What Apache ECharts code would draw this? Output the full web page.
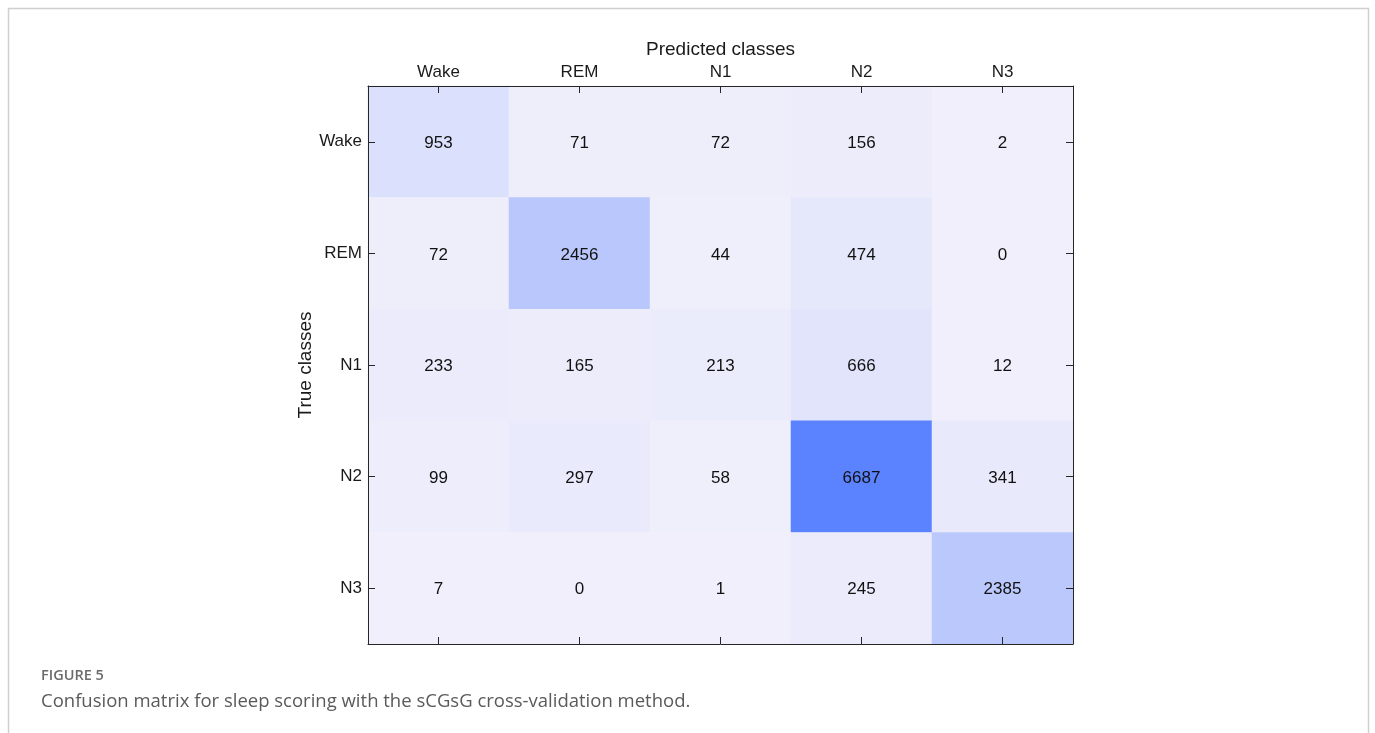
<!DOCTYPE html>
<html>
<head>
<meta charset="utf-8">
<style>
  html, body { margin: 0; padding: 0; background: #fff; }
  #chart { width: 1375px; height: 733px; }
</style>
<script src="https://cdn.jsdelivr.net/npm/echarts@6/dist/echarts.min.js"></script>
</head>
<body>
<div id="chart"></div>
<script>
// Sleep stage classes (predicted along columns, true along rows)
const predictedClasses = ['Wake', 'REM', 'N1', 'N2', 'N3'];
const trueClasses = ['Wake', 'REM', 'N1', 'N2', 'N3'];

// Counts per true class (one row each), columns follow predictedClasses
const rowWake = [953, 71, 72, 156, 2];
const rowREM  = [72, 2456, 44, 474, 0];
const rowN1   = [233, 165, 213, 666, 12];
const rowN2   = [99, 297, 58, 6687, 341];
const rowN3   = [7, 0, 1, 245, 2385];

const matrix = [rowWake, rowREM, rowN1, rowN2, rowN3];

const cells = [];
matrix.forEach((row, yi) => {
  row.forEach((v, xi) => cells.push([xi, yi, v]));
});
const maxCount = Math.max(...cells.map(c => c[2]));

const axisColor = '#262626';
const font = '"Liberation Sans", Arial, sans-serif';

// Box axes drawn above the cells, ticks pointing inward
function boxAxis(extra) {
  return Object.assign({
    type: 'category', z: 10,
    axisLine: { show: true, lineStyle: { color: axisColor, width: 1 } },
    axisTick: { show: true, inside: true, length: 7, alignWithLabel: true, lineStyle: { color: axisColor } },
    axisLabel: { show: false },
    splitLine: { show: false }, splitArea: { show: false }
  }, extra);
}

const chart = echarts.init(document.getElementById('chart'));
chart.setOption({
  animation: false,
  backgroundColor: '#fff',
  grid: { left: 368, top: 86, width: 705, height: 558 },
  xAxis: [
    boxAxis({
      data: predictedClasses, position: 'top',
      name: 'Predicted classes', nameLocation: 'middle', nameGap: 27,
      nameMoveOverlap: false,
      nameTextStyle: { fontFamily: font, fontSize: 19, color: '#1a1a1a' },
      axisLabel: { show: true, fontFamily: font, fontSize: 17, color: '#1a1a1a', margin: 5 }
    }),
    boxAxis({ data: predictedClasses, position: 'bottom' })
  ],
  yAxis: [
    boxAxis({
      data: trueClasses, inverse: true, position: 'left',
      name: 'True classes', nameLocation: 'middle', nameGap: 53, nameRotate: 90,
      nameMoveOverlap: false,
      nameTextStyle: { fontFamily: font, fontSize: 19, color: '#1a1a1a' },
      axisLabel: { show: true, fontFamily: font, fontSize: 17, color: '#1a1a1a', margin: 6, padding: [4, 0, 0, 0] }
    }),
    boxAxis({ data: trueClasses, inverse: true, position: 'right' })
  ],
  visualMap: {
    show: false, min: 0, max: maxCount, dimension: 2,
    inRange: { color: ['#f0effb', '#5b83ff'] }
  },
  series: [{
    type: 'heatmap',
    xAxisIndex: 0, yAxisIndex: 0,
    data: cells,
    label: {
      show: true, fontFamily: font, fontSize: 17, color: '#111', offset: [0, 1.5],
      formatter: p => p.value[2]
    },
    itemStyle: { borderWidth: 0 },
    emphasis: { disabled: true }
  }],
  graphic: [
    {
      type: 'rect', silent: true, z: -1,
      shape: { x: 8.5, y: 8.5, width: 1360, height: 740 },
      style: { fill: 'none', stroke: '#cfcfcf', lineWidth: 1.5 }
    },
    {
      type: 'text', left: 41, top: 668,
      style: { text: 'FIGURE 5', fontFamily: '"Open Sans", sans-serif', fontSize: 14.5, fontWeight: 600, fill: '#6b6b6b' }
    },
    {
      type: 'text', left: 41, top: 692,
      style: { text: 'Confusion matrix for sleep scoring with the sCGsG cross-validation method.', fontFamily: '"Open Sans", sans-serif', fontSize: 18.5, fill: '#5a5a5a' }
    }
  ]
});
</script>
</body>
</html>
